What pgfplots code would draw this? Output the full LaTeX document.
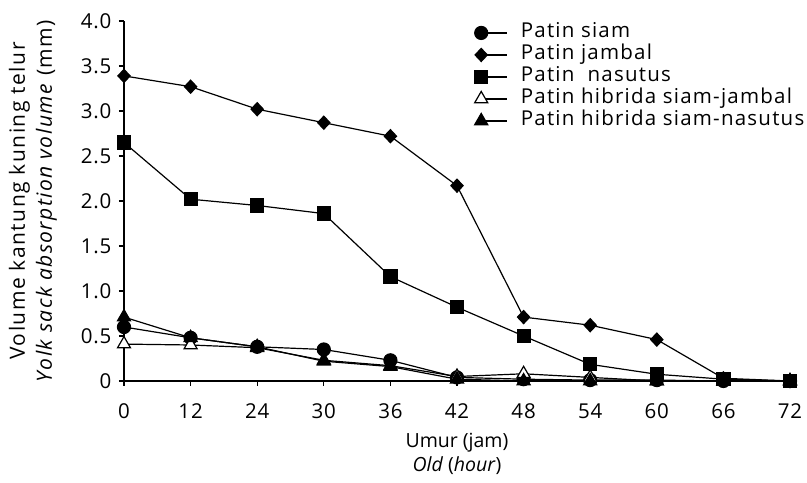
\documentclass[border=0pt]{standalone}
\usepackage{fontspec}
\setmainfont{Open Sans}
\newfontfamily\spaced[LetterSpace=4]{Open Sans}
\newfontfamily\lspaced[LetterSpace=6]{Open Sans}
\newfontfamily\yspaced[LetterSpace=7]{Open Sans}
\usepackage{pgfplots}
\pgfplotsset{compat=1.18}
\usetikzlibrary{calc}
\begin{document}
\begin{tikzpicture}
\begin{axis}[
  name=ax, at={(0,0)}, anchor=south west,
  scale only axis, width=666pt, height=360pt,
  xmin=0, xmax=10, ymin=0, ymax=4,
  axis x line=bottom, axis y line=left,
  axis line style={-, line width=1.2pt},
  xtick={0,1,2,3,4,5,6,7,8,9,10},
  xticklabels={0,12,24,30,36,42,48,54,60,66,72},
  ytick={0,0.5,1,1.5,2,2.5,3,3.5,4},
  yticklabels={0,0.5,1.0,1.5,2.0,2.5,3.0,3.5,4.0},
  tick align=outside, major tick length=5pt,
  tick style={line width=1.2pt, black},
  tick label style={font=\spaced\fontsize{20.5}{22}\selectfont},
  yticklabel style={xshift=-4pt},
  xticklabel style={yshift=-14pt},
  xlabel={Umur (jam)\\\textit{Old} (\textit{hour})},
  xlabel style={at={(rel axis cs:0.5,0)}, anchor=north, yshift=-52pt,
    inner sep=0pt, align=center, font=\fontsize{19.5}{24}\selectfont},
  ylabel={Volume kantung kuning telur\\\textit{Yolk sack absorption volume} (mm)},
  ylabel style={at={(rel axis cs:-0.1006,0.5)}, anchor=south, rotate=0,
    inner sep=0pt, align=center, font=\yspaced\fontsize{21}{27}\selectfont},
  clip=false,
  every axis plot/.append style={black, line width=1.2pt},
  legend cell align=left,
  legend style={at={(0.5263,0.991)}, anchor=north west, draw=none, fill=none,
    inner sep=0pt, font=\lspaced\fontsize{20.5}{22}\selectfont, row sep=5pt,
    nodes={inner sep=0pt, text height=13pt, text depth=4pt},
    /tikz/every odd column/.append style={column sep=13pt}},
  legend image code/.code={
    \draw[#1, mark=none] (0pt,0pt) -- (26pt,0pt);
    \draw[#1] plot coordinates {(0pt,0pt)};
  },
]
\addplot[mark=*, mark size=6.5pt] coordinates {
(0,0.60) (1,0.48) (2,0.38) (3,0.35) (4,0.23) (5,0.04) (6,0.02) (7,0.01) (8,0.01) (9,0) (10,0)};
\addlegendentry{Patin siam}
\addplot[mark=diamond*, mark size=6.5pt, mark options={xscale=1.25}] coordinates {
(0,3.39) (1,3.27) (2,3.02) (3,2.87) (4,2.72) (5,2.17) (6,0.71) (7,0.62) (8,0.46) (9,0.03) (10,0)};
\addlegendentry{Patin jambal}
\addplot[mark=square*, mark size=6.5pt] coordinates {
(0,2.65) (1,2.02) (2,1.95) (3,1.86) (4,1.16) (5,0.82) (6,0.50) (7,0.185) (8,0.075) (9,0.02) (10,0)};
\addlegendentry{Patin\ \ nasutus}
\addplot[mark=triangle*, mark size=7.5pt, mark options={fill=white}] coordinates {
(0,0.41) (1,0.40) (2,0.37) (3,0.23) (4,0.17) (5,0.05) (6,0.08) (7,0.04) (8,0.0) (9,0) (10,0)};
\addlegendentry{Patin hibrida siam-jambal}
\addplot[mark=triangle*, mark size=7.5pt] coordinates {
(0,0.71) (1,0.48) (2,0.38) (3,0.22) (4,0.16) (5,0.02) (6,0.0) (7,0.0) (8,0.0) (9,0) (10,0)};
\addlegendentry{Patin hibrida siam-nasutus}
\end{axis}
\pgfresetboundingbox
\path ($(ax.south west)+(-124pt,-102pt)$) rectangle ($(ax.north east)+(17pt,21pt)$);
\end{tikzpicture}
\end{document}
